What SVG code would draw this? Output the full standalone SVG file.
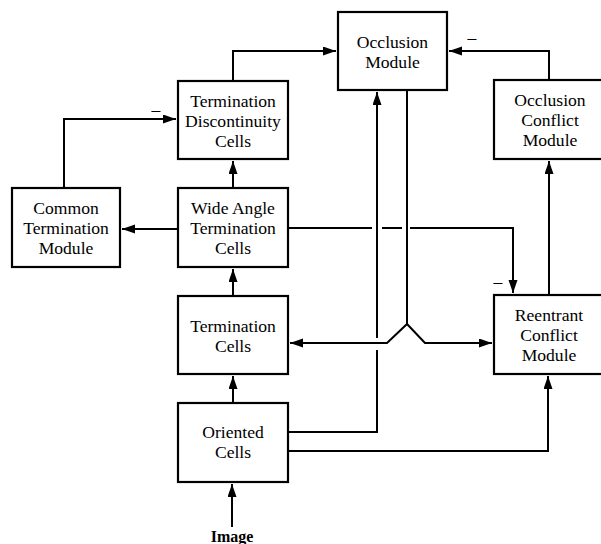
<svg xmlns="http://www.w3.org/2000/svg" width="601" height="544" viewBox="0 0 601 544">
<defs>
<marker id="ah" markerUnits="userSpaceOnUse" markerWidth="14" markerHeight="10" refX="13" refY="4.5" orient="auto">
<path d="M0,0 L13,4.5 L0,9 z" fill="#000"/>
</marker>
<style>
.box{fill:#fff;stroke:#000;stroke-width:2.2}
.t{font-family:"Liberation Serif","Times New Roman",serif;font-size:17.6px;text-anchor:middle;fill:#000}
.c{fill:none;stroke:#000;stroke-width:2}
.a{marker-end:url(#ah)}
</style>
</defs>
<rect width="601" height="544" fill="#fff"/>
<g id="connectors">
<path class="c a" d="M233,81 V51 H336"/>
<path class="c a" d="M64,188 V119 H176"/>
<path class="c a" d="M233,188 V161"/>
<path class="c a" d="M178,229 H122"/>
<path class="c a" d="M233,296 V269"/>
<path class="c a" d="M233,403 V376"/>
<path class="c a" d="M232,527 V484"/>
<path class="c a" d="M288,432 H377 V350 M377,338 V92"/>
<path class="c a" d="M407,90 V324 L387,343 H290"/>
<path class="c a" d="M407,324 L425,343 H492"/>
<path class="c a" d="M288,228 H372 M382,228 H402 M410,228 H513 V293"/>
<path class="c a" d="M549,80 V51 H449"/>
<path class="c a" d="M549,295 V161"/>
<path class="c a" d="M288,451 H548 V376"/>
<text class="t" x="156" y="115">–</text>
<text class="t" x="472" y="43">–</text>
<text class="t" x="498" y="287">–</text>
</g>
<g id="occlusion-module">
<rect class="box" x="338" y="12" width="109" height="78"/>
<text class="t" x="392.5" y="48">Occlusion</text>
<text class="t" x="392.5" y="68">Module</text>
</g>
<g id="termination-discontinuity-cells">
<rect class="box" x="178" y="81" width="110" height="78"/>
<text class="t" x="233" y="107">Termination</text>
<text class="t" x="233" y="127">Discontinuity</text>
<text class="t" x="233" y="147">Cells</text>
</g>
<g id="occlusion-conflict-module">
<rect class="box" x="494" y="80" width="112" height="79"/>
<text class="t" x="550" y="106">Occlusion</text>
<text class="t" x="550" y="126">Conflict</text>
<text class="t" x="550" y="146">Module</text>
</g>
<g id="common-termination-module">
<rect class="box" x="12" y="188" width="108" height="79"/>
<text class="t" x="66" y="214">Common</text>
<text class="t" x="66" y="234">Termination</text>
<text class="t" x="66" y="254">Module</text>
</g>
<g id="wide-angle-termination-cells">
<rect class="box" x="178" y="188" width="110" height="79"/>
<text class="t" x="233" y="214">Wide Angle</text>
<text class="t" x="233" y="234">Termination</text>
<text class="t" x="233" y="254">Cells</text>
</g>
<g id="termination-cells">
<rect class="box" x="178" y="296" width="110" height="78"/>
<text class="t" x="233" y="332">Termination</text>
<text class="t" x="233" y="352">Cells</text>
</g>
<g id="reentrant-conflict-module">
<rect class="box" x="494" y="295" width="112" height="79"/>
<text class="t" x="549" y="321">Reentrant</text>
<text class="t" x="549" y="341">Conflict</text>
<text class="t" x="549" y="361">Module</text>
</g>
<g id="oriented-cells">
<rect class="box" x="178" y="403" width="110" height="79"/>
<text class="t" x="233" y="438">Oriented</text>
<text class="t" x="233" y="458">Cells</text>
</g>
<g id="image">
<text class="t" x="232" y="542" style="font-weight:bold;font-size:16px">Image</text>
</g>
</svg>
